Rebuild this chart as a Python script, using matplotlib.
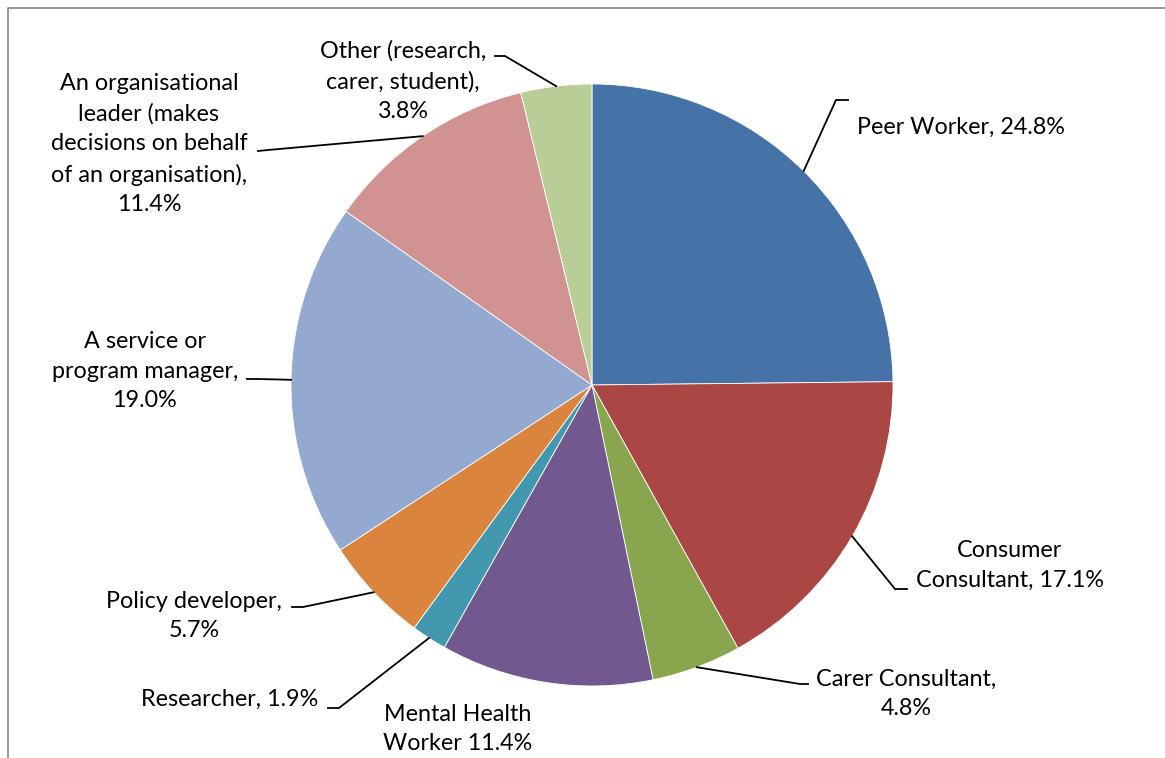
import matplotlib.pyplot as plt
import numpy as np
from matplotlib.patches import Rectangle

W, H = 1165, 758

labels = ["Peer Worker, 24.8%",
          "Consumer\nConsultant, 17.1%",
          "Carer Consultant,\n4.8%",
          "Mental Health\nWorker 11.4%",
          "Researcher, 1.9%",
          "Policy developer,\n5.7%",
          "A service or\nprogram manager,\n19.0%",
          "An organisational\nleader (makes\ndecisions on behalf\nof an organisation),\n11.4%",
          "Other (research,\ncarer, student),\n3.8%"]
values = [24.8, 17.1, 4.8, 11.4, 1.9, 5.7, 19.0, 11.4, 3.8]
colors = ["#4572A7", "#AA4643", "#89A54E", "#71588F", "#4198AF",
          "#DB843D", "#93A9CF", "#D19392", "#B9CD96"]

# label layout in pixel coords (from top-left): text centre, elbow start, elbow end
text_pos = [(961, 127), (1010, 565), (906, 694), (458, 729), (230, 699),
            (194, 616), (145, 371), (149, 144), (403, 81)]
elbow = [[(848, 100), (836, 100)],
         [(907, 589), (895, 589)],
         [(808, 684), (800, 684)],
         None,
         [(328, 708), (339, 708)],
         [(292, 607), (303, 607)],
         [(247, 379), (258, 379)],
         [(258, 151), (268, 150)],
         [(495, 56), (505, 56)]]

cx, cy, r = 592, 385, 301

fig = plt.figure(figsize=(W / 100, H / 100), dpi=100)
ax = fig.add_axes([0, 0, 1, 1])
ax.set_xlim(0, W)
ax.set_ylim(0, H)
ax.set_aspect('equal')
ax.axis('off')

wedges, _ = ax.pie(values, colors=colors, startangle=90, counterclock=False,
                   center=(cx, H - cy), radius=r,
                   wedgeprops=dict(edgecolor='white', linewidth=0.6))
ax.set_xlim(0, W)
ax.set_ylim(0, H)

for i, w in enumerate(wedges):
    tx, ty = text_pos[i]
    ax.text(tx, H - ty, labels[i], ha='center', va='center', fontsize=16.8,
            family='Lato', linespacing=1.52, color='black')
    if elbow[i] is None:
        continue
    mid = np.deg2rad((w.theta1 + w.theta2) / 2)
    px = cx + r * np.cos(mid)
    py = H - cy + r * np.sin(mid)
    (x1, y1), (x2, y2) = elbow[i]
    ax.plot([x1, x2, px], [H - y1, H - y2, py], color='black', lw=1.3,
            solid_joinstyle='miter')

# chart frame (cut off on right and bottom)
fig.patches.append(Rectangle((8 / W, -0.1), 2, (H - 8) / H + 0.1,
                             transform=fig.transFigure, fill=False,
                             edgecolor='#868686', lw=1.2))

fig.savefig('out.png', dpi=100)
